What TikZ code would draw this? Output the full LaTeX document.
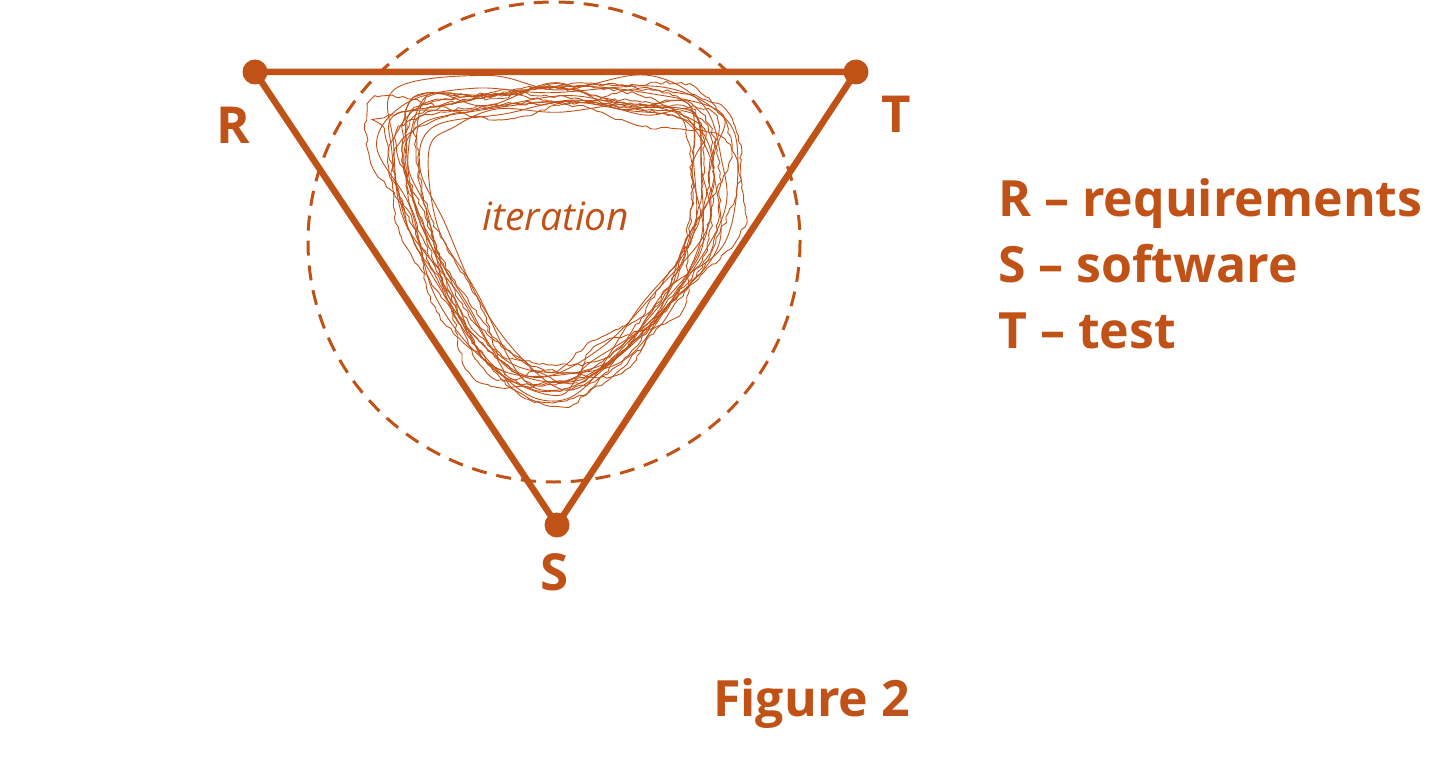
\documentclass[tikz,border=0pt]{standalone}
\usepackage{fontspec}
\setmainfont{Open Sans}
\usetikzlibrary{decorations.pathmorphing}
\definecolor{burnt}{RGB}{192,82,24}
\tikzset{
  vertexdot/.style={circle,fill=burnt,minimum size=25pt,inner sep=0pt},
  tri/.style={draw=burnt,line width=6.5pt,line join=round},
  dashcircle/.style={draw=burnt,line width=3pt,dash pattern=on 15pt off 10pt},
  scrib/.style={draw=burnt,line width=0.9pt},
  wig/.style={decorate,decoration={random steps,segment length=5pt,amplitude=1.6pt}},
  vlabel/.style={text=burnt,font=\fontsize{51}{51}\selectfont\bfseries,inner sep=0pt,anchor=base},
  legend/.style={text=burnt,font=\fontsize{50}{50}\selectfont\bfseries,inner sep=0pt,anchor=base west},
}
\def\basepts{418/110,490/100,560/98,640/103,700/118,712/165,702/235,660/305,605/362,555/382,505/365,458/300,420/220,404/155}
\newcommand\scribbleloop[2]{%
  \pgfmathsetmacro\scx{0.88+0.26*rnd}%
  \pgfmathsetmacro\scy{0.88+0.22*rnd}%
  \pgfmathsetmacro\ox{(rnd-0.5)*22}%
  \pgfmathsetmacro\oy{(rnd-0.5)*18}%
  \gdef\looppts{}%
  \foreach \bx/\by in \basepts {%
    \pgfmathsetmacro\nx{558+(\bx-558)*\scx+\ox+(rnd-0.5)*#2}%
    \pgfmathsetmacro\ny{240+(\by-240)*\scy+\oy+(rnd-0.5)*#2}%
    \xdef\looppts{\looppts (\nx,\ny)}%
  }%
  \edef\tmp{\noexpand\draw[scrib,#1] plot[smooth cycle,tension=0.6] coordinates {\looppts};}\tmp
}
\begin{document}
\begin{tikzpicture}[x=1pt,y=-1pt]
\useasboundingbox (0,0) rectangle (1456,765);
% dashed circle
\draw[dashcircle] (554,242) ellipse [x radius=246, y radius=240];
% scribble loops
\pgfmathsetseed{23}
\foreach \k in {1,...,8}{\scribbleloop{}{24}}
\foreach \k in {1,...,8}{\scribbleloop{wig}{24}}
\foreach \k in {1,...,2}{\scribbleloop{wig}{44}}
% triangle vertices
\node[vertexdot] (R) at (255,72) {};
\node[vertexdot] (T) at (856,72) {};
\node[vertexdot] (S) at (557,525) {};
\draw[tri] (R.center) -- (T.center) -- (S.center) -- cycle;
% vertex labels
\node[vlabel] (Rl) at (233,143) {R};
\node[vlabel] (Tl) at (896,132) {T};
\node[vlabel] (Sl) at (555,590) {S};
% iteration
\node[text=burnt,font=\fontsize{39}{39}\selectfont\itshape,inner sep=0pt,anchor=base] (it) at (556,230) {iteration};
% legend
\node[legend] (L1) at (998,216) {R – requirements};
\node[legend] (L2) at (998,282) {S – software};
\node[legend] (L3) at (998,348) {T – test};
% caption
\node[text=burnt,font=\fontsize{50}{50}\selectfont\bfseries,inner sep=0pt,anchor=base west] (fig) at (713,716) {Figure 2};
\end{tikzpicture}
\end{document}
